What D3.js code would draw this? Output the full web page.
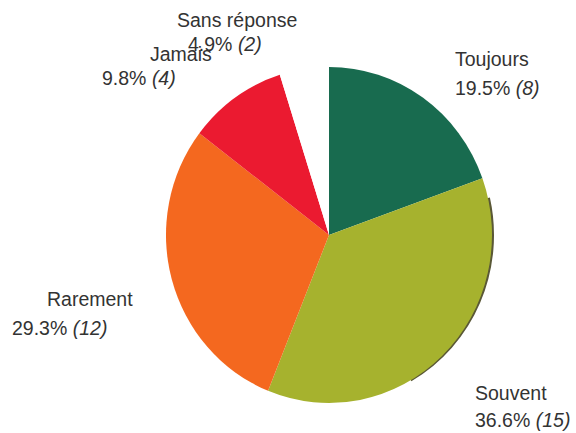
<!DOCTYPE html>
<html>
<head>
<meta charset="utf-8">
<script src="https://cdn.jsdelivr.net/npm/d3@7"></script>
<style>
  body { margin: 0; background: #fff; }
  text { font-family: "Liberation Sans", Arial, sans-serif; fill: #333; }
</style>
</head>
<body>
<div id="chart"></div>
<script>
// data
const categories = ["Toujours", "Souvent", "Rarement", "Jamais", "Sans réponse"];
const counts = [8, 15, 12, 4, 2];
const percentLabels = ["19.5%", "36.6%", "29.3%", "9.8%", "4.9%"];
const colors = ["#186b4f", "#a6b22e", "#f4681f", "#eb1a30", "#ffffff"];

// label placement (two lines each: name, then "pct (n)")
const labelPos = {
  "Toujours":     {x1: 455, y1: 66,  x2: 455, y2: 95},
  "Souvent":      {x1: 475, y1: 400, x2: 475, y2: 427},
  "Rarement":     {x1: 47,  y1: 306, x2: 12,  y2: 335},
  "Jamais":       {x1: 150, y1: 61,  x2: 102, y2: 85},
  "Sans réponse": {x1: 177, y1: 27,  x2: 188, y2: 51}
};

const width = 576, height = 433;
const cx = 329, cy = 235, r = 163, ry = 168;

const colorScale = d3.scaleOrdinal().domain(categories).range(colors);

const data = categories.map((c, i) => ({cat: c, value: counts[i], pct: percentLabels[i]}));

const pie = d3.pie().value(d => d.value).sort(null).startAngle(0).endAngle(2 * Math.PI);
const arcs = pie(data);
const arc = d3.arc().innerRadius(0).outerRadius(r);

const svg = d3.select("#chart").append("svg").attr("width", width).attr("height", height);

const g = svg.append("g")
    .attr("transform", `translate(${cx},${cy}) scale(1,${ry / r})`);

// dark 3D rim on the right side of "Souvent"
const souvent = arcs[1];
g.append("path")
    .attr("d", d3.arc().innerRadius(r - 3).outerRadius(r)
        .startAngle(souvent.startAngle + 0.12).endAngle(souvent.startAngle + 1.4)())
    .attr("fill", "#5a5836")
    .attr("transform", "translate(2,0)");

g.selectAll("path.slice")
    .data(arcs)
    .join("path")
    .attr("class", "slice")
    .attr("d", arc)
    .attr("fill", d => colorScale(d.data.cat));

// labels
const labels = svg.selectAll("g.label")
    .data(data)
    .join("g")
    .attr("class", "label");

labels.append("text")
    .attr("x", d => labelPos[d.cat].x1)
    .attr("y", d => labelPos[d.cat].y1)
    .attr("font-size", 19.5)
    .text(d => d.cat);

const second = labels.append("text")
    .attr("x", d => labelPos[d.cat].x2)
    .attr("y", d => labelPos[d.cat].y2)
    .attr("font-size", 19.5);
second.append("tspan").text(d => d.pct + " ");
second.append("tspan").attr("font-style", "italic").text(d => "(" + d.value + ")");
</script>
</body>
</html>
